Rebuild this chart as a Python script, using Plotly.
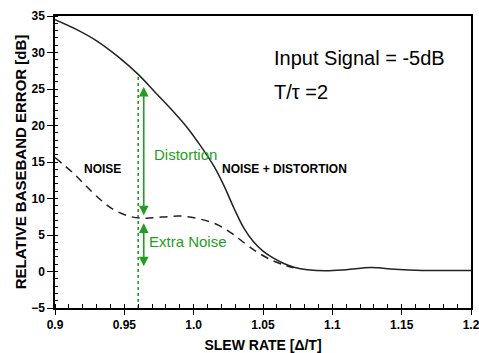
import plotly.graph_objects as go

# Noise + distortion curve (solid)
total_x = [0.9, 0.915, 0.93, 0.945, 0.96, 0.972, 0.984, 0.995, 1.005, 1.015,
           1.022, 1.029, 1.036, 1.043, 1.05, 1.057, 1.065, 1.073, 1.082, 1.095,
           1.11, 1.128, 1.145, 1.165, 1.2]
total_y = [34.5, 33.2, 31.6, 29.5, 27.0, 24.6, 22.2, 19.8, 17.2, 14.3,
           11.7, 8.7, 6.0, 4.1, 2.8, 1.9, 1.1, 0.55, 0.25, 0.1,
           0.25, 0.55, 0.3, 0.15, 0.15]

# Noise-only curve (dashed)
noise_x = [0.9, 0.913, 0.923, 0.933, 0.943, 0.955, 0.965, 0.977, 0.99, 1.003,
           1.016, 1.027, 1.038, 1.048, 1.058, 1.066, 1.072]
noise_y = [15.6, 13.5, 11.6, 9.8, 8.4, 7.5, 7.3, 7.45, 7.6, 7.25,
           6.5, 5.3, 3.7, 2.4, 1.4, 0.85, 0.5]

# Marker at the chosen slew rate and the split of the error
marker_x = 0.96
marker_top = 27.0
distortion_span = (25.3, 7.5)
extra_noise_span = (6.6, 0.5)

x_ticks = [0.9, 0.95, 1.0, 1.05, 1.1, 1.15, 1.2]
x_tick_text = ["0.9", "0.95", "1.0", "1.05", "1.1", "1.15", "1.2"]
y_ticks = [-5, 0, 5, 10, 15, 20, 25, 30, 35]

GREEN = "#1f9e1f"
FONT = "Liberation Sans, Arial, sans-serif"

fig = go.Figure()

fig.add_trace(go.Scatter(
    x=[marker_x, marker_x], y=[-5, marker_top], mode="lines",
    line=dict(color=GREEN, width=1.6, dash="dot"), hoverinfo="skip"))

fig.add_trace(go.Scatter(
    x=noise_x, y=noise_y, mode="lines", line_shape="spline",
    line=dict(color="#222222", width=1.5, dash="8px,6px")))

fig.add_trace(go.Scatter(
    x=total_x, y=total_y, mode="lines", line_shape="spline",
    line=dict(color="#222222", width=1.5)))

annotations = []
arrow_x = 0.964
for top, bottom in (distortion_span, extra_noise_span):
    annotations.append(dict(
        x=arrow_x, y=top, ax=arrow_x, ay=bottom, xref="x", yref="y",
        axref="x", ayref="y", text="", showarrow=True,
        arrowhead=2, startarrowhead=2, arrowside="end+start",
        arrowsize=1.2, arrowwidth=1.6, arrowcolor=GREEN,
        standoff=0, startstandoff=0))

def label(text, x, y, size, color="black", bold=False):
    if bold:
        text = "<b>" + text + "</b>"
    annotations.append(dict(
        x=x, y=y, xref="x", yref="y", text=text, showarrow=False,
        xanchor="left", yanchor="middle",
        font=dict(family=FONT, size=size, color=color)))

label("Distortion", 0.970, 16.0, 15, GREEN)
label("Extra Noise", 0.966, 4.1, 15, GREEN)
label("NOISE + DISTORTION", 1.019, 14.0, 12, bold=True)
label("NOISE", 0.9197, 14.1, 12, bold=True)
label("Input Signal = -5dB", 1.0566, 29.2, 20)
label("T/τ =2", 1.0566, 24.6, 20)

fig.update_layout(
    width=479, height=353,
    margin=dict(l=55, r=8, t=16, b=45),
    paper_bgcolor="white", plot_bgcolor="white",
    showlegend=False,
    annotations=annotations,
    font=dict(family=FONT, color="black"),
)

fig.update_xaxes(
    range=[0.9, 1.2], tickvals=x_ticks, ticktext=x_tick_text,
    automargin=False, ticklabeloverflow="allow",
    showgrid=False, zeroline=False,
    showline=True, linecolor="black", linewidth=1.5, mirror=True,
    ticks="outside", ticklen=5, tickwidth=1.2, tickcolor="black",
    minor=dict(dtick=0.01, ticks="inside", ticklen=4, tickcolor="black", tickwidth=1),
    tickfont=dict(family=FONT, size=12, color="black", weight="bold"),
    title=dict(text="<b>SLEW RATE [Δ/T]</b>", standoff=10,
               font=dict(family=FONT, size=14, color="black")),
)

fig.update_yaxes(
    range=[-5, 35], tickvals=y_ticks,
    automargin=False,
    showgrid=False, zeroline=False,
    showline=True, linecolor="black", linewidth=1.5, mirror=True,
    ticks="outside", ticklen=6, tickwidth=1.2, tickcolor="black",
    minor=dict(dtick=1, ticks="inside", ticklen=3, tickcolor="black", tickwidth=1),
    tickfont=dict(family=FONT, size=12, color="black", weight="bold"),
    title=dict(text="<b>RELATIVE BASEBAND ERROR [dB]</b>", standoff=1,
               font=dict(family=FONT, size=15, color="black")),
)

fig.write_html("out.html")
